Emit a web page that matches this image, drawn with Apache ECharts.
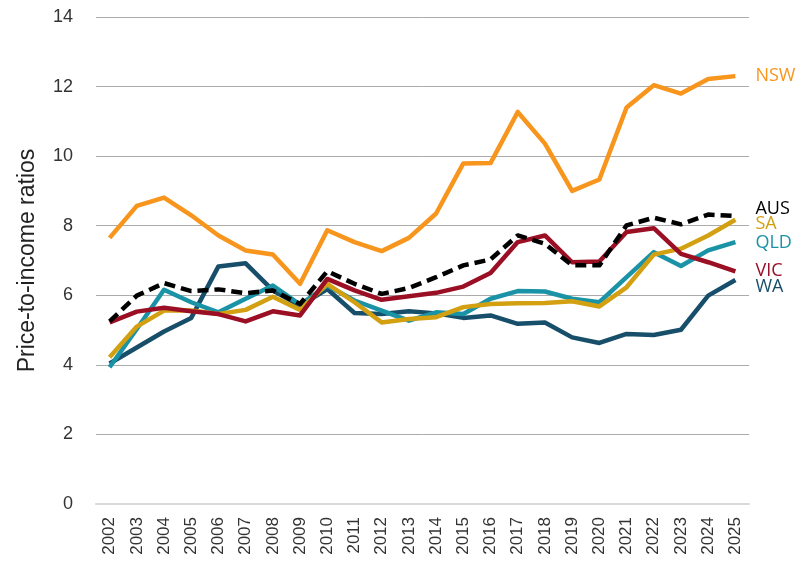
<!DOCTYPE html>
<html>
<head>
<meta charset="utf-8">
<script src="https://cdn.jsdelivr.net/npm/echarts@6/dist/echarts.min.js"></script>
<style>html,body{margin:0;padding:0;background:#fff;}#c{width:800px;height:575px;}</style>
</head>
<body>
<div id="c"></div>
<script>
const years = ['2002','2003','2004','2005','2006','2007','2008','2009','2010','2011','2012','2013','2014','2015','2016','2017','2018','2019','2020','2021','2022','2023','2024','2025'];
const nsw = [7.65,8.57,8.81,8.30,7.72,7.29,7.17,6.33,7.87,7.53,7.27,7.65,8.35,9.79,9.80,11.27,10.36,9.00,9.33,11.40,12.04,11.80,12.22,12.30];
const aus = [5.25,5.99,6.35,6.12,6.17,6.06,6.14,5.75,6.69,6.33,6.04,6.21,6.52,6.86,7.03,7.72,7.48,6.86,6.86,8.01,8.23,8.04,8.32,8.28];
const vic = [5.22,5.53,5.64,5.54,5.46,5.25,5.54,5.42,6.47,6.14,5.87,5.97,6.07,6.25,6.64,7.53,7.72,6.95,6.97,7.82,7.93,7.19,6.95,6.69];
const qld = [3.93,5.03,6.16,5.80,5.51,5.90,6.28,5.73,6.28,5.85,5.56,5.27,5.51,5.46,5.90,6.12,6.11,5.90,5.80,6.52,7.24,6.84,7.29,7.53];
const sa  = [4.22,5.10,5.56,5.56,5.46,5.58,5.96,5.58,6.33,5.80,5.22,5.32,5.37,5.66,5.75,5.77,5.78,5.83,5.68,6.23,7.17,7.34,7.72,8.17];
const wa  = [4.04,4.50,4.96,5.35,6.83,6.92,6.14,5.70,6.18,5.49,5.46,5.54,5.48,5.35,5.42,5.18,5.22,4.79,4.63,4.89,4.86,5.01,5.99,6.44];
const yTicks = [0,2,4,6,8,10,12,14];

function mk(name, data, color, dy, dashed, z) {
  return {
    name: name, type: 'line', data: data, symbol: 'none', z: z,
    lineStyle: { color: color, width: 4.5, type: dashed ? [11, 6] : 'solid', cap: 'butt', join: 'round' },
    itemStyle: { color: color },
    endLabel: {
      show: true, formatter: name, color: color, distance: 20,
      fontFamily: 'Open Sans', fontSize: 18, offset: [0, dy]
    },
    emphasis: { disabled: true }
  };
}

const chart = echarts.init(document.getElementById('c'), null, { renderer: 'canvas' });
chart.setOption({
  animation: false,
  backgroundColor: '#fff',
  grid: { left: 96, right: 51, top: 17, bottom: 71 },
  xAxis: {
    type: 'category', data: years, boundaryGap: true,
    axisLine: { show: true, lineStyle: { color: '#d9d9d9', width: 2 } },
    axisTick: { show: false },
    axisLabel: { rotate: 90, margin: 13, fontFamily: 'Liberation Sans', fontSize: 17, color: '#333' }
  },
  yAxis: {
    type: 'value', min: 0, max: 14, interval: 2,
    name: 'Price-to-income ratios', nameLocation: 'middle', nameGap: 57,
    nameTextStyle: { fontFamily: 'Liberation Sans', fontSize: 23, color: '#222' },
    axisLine: { show: false }, axisTick: { show: false },
    axisLabel: { margin: 23, fontFamily: 'Liberation Sans', fontSize: 18, color: '#333',
      formatter: function (v) { return yTicks.indexOf(v) >= 0 ? String(v) : ''; } },
    splitLine: { show: true, lineStyle: { color: '#ababab', width: 1 } }
  },
  series: [
    mk('NSW', nsw, '#f7951d', 0, false, 2),
    mk('WA', wa, '#174e6a', 7, false, 3),
    mk('QLD', qld, '#1b93a6', 1, false, 4),
    mk('SA', sa, '#d3a012', 4, false, 5),
    mk('VIC', vic, '#9b0f25', 0, false, 6),
    mk('AUS', aus, '#000000', -7, true, 7)
  ]
});
</script>
</body>
</html>
